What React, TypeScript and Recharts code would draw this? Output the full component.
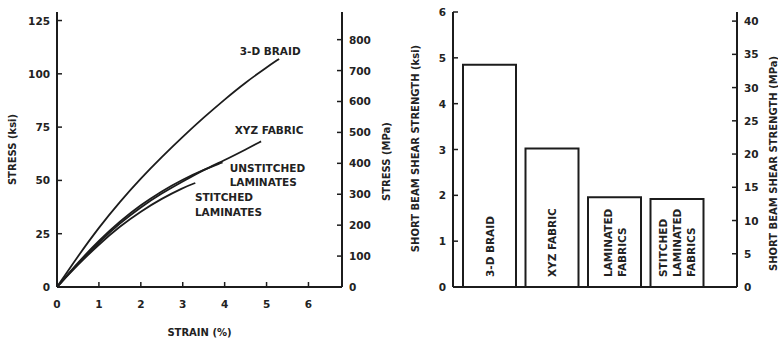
import React from "react";
import {
  LineChart,
  Line,
  BarChart,
  Bar,
  XAxis,
  YAxis,
  ReferenceDot,
  LabelList,
} from "recharts";

// stress-strain curves (strain %, stress ksi)
const braidStrain = [0, 0.5, 1, 1.5, 2, 2.5, 3, 3.5, 4, 4.5, 5, 5.3];
const braidStress = [0, 14.5, 28, 40, 51, 61, 70.5, 79.5, 88, 96, 103, 107];
const xyzStrain = [0, 0.5, 1, 1.5, 2, 2.5, 3, 3.5, 4, 4.5, 4.87];
const xyzStress = [0, 11, 21, 30, 37.5, 44, 49.5, 55, 59.5, 64.5, 68.3];
const unstitchedStrain = [0, 0.5, 1, 1.5, 2, 2.5, 3, 3.5, 3.95];
const unstitchedStress = [0, 11.5, 21.8, 30.8, 38.5, 45, 50.5, 55, 58.5];
const stitchedStrain = [0, 0.5, 1, 1.5, 2, 2.5, 3, 3.3];
const stitchedStress = [0, 10.5, 20, 28.5, 35.5, 41.5, 46.5, 48.8];

const strainTicks = [0, 1, 2, 3, 4, 5, 6];
const ksiTicks = [0, 25, 50, 75, 100, 125];
const mpaTicks = [0, 100, 200, 300, 400, 500, 600, 700, 800];

// short beam shear strength (ksi)
const materials = [
  "3-D BRAID",
  "XYZ FABRIC",
  "LAMINATED\nFABRICS",
  "STITCHED\nLAMINATED\nFABRICS",
];
const shearKsi = [4.85, 3.02, 1.96, 1.92];
const shearKsiTicks = [0, 1, 2, 3, 4, 5, 6];
const shearMpaTicks = [0, 5, 10, 15, 20, 25, 30, 35, 40];

const KSI_TO_MPA = 6.895;

const ink = "#1c1c1c";
const font = {
  fontFamily: "DejaVu Sans",
  fontWeight: 700,
  fill: "#222",
};

const toPoints = (xs: number[], ys: number[]) =>
  xs.map((x, i) => ({ x, y: ys[i] }));

const shearData = materials.map((name, i) => ({ name, ksi: shearKsi[i] }));

// tick mark drawn inside the plot, label outside
const GAP = 7;
const TICK = 5;
const InTick = (props: any) => {
  const { x, y, payload, side } = props;
  const label = String(payload.value);
  if (side === "left") {
    const ax = x + GAP;
    return (
      <g>
        <line x1={ax} x2={ax + TICK} y1={y} y2={y} stroke={ink} strokeWidth={1.5} />
        <text x={x} y={y} textAnchor="end" dominantBaseline="central" fontSize={10.5} style={font}>
          {label}
        </text>
      </g>
    );
  }
  if (side === "right") {
    const ax = x - GAP;
    return (
      <g>
        <line x1={ax} x2={ax - TICK} y1={y} y2={y} stroke={ink} strokeWidth={1.5} />
        <text x={x} y={y} textAnchor="start" dominantBaseline="central" fontSize={10.5} style={font}>
          {label}
        </text>
      </g>
    );
  }
  const ay = y - 12;
  return (
    <g>
      <line x1={x} x2={x} y1={ay} y2={ay - TICK} stroke={ink} strokeWidth={1.5} />
      <text x={x} y={y + 5} textAnchor="middle" dominantBaseline="central" fontSize={10.5} style={font}>
        {label}
      </text>
    </g>
  );
};

const SideLabel = (props: any) => {
  const { viewBox, text, dx = 0, dy = 0 } = props;
  if (!viewBox) return null;
  const cx = viewBox.x + dx;
  const cy = viewBox.y + viewBox.height / 2 + dy;
  return (
    <text
      x={cx}
      y={cy}
      transform={`rotate(-90 ${cx} ${cy})`}
      textAnchor="middle"
      dominantBaseline="central"
      fontSize={10}
      style={font}
    >
      {text}
    </text>
  );
};

const BottomLabel = (props: any) => {
  const { viewBox, text } = props;
  if (!viewBox) return null;
  const cx = viewBox.x + viewBox.width / 2;
  const cy = viewBox.y + 45;
  return (
    <text x={cx} y={cy} textAnchor="middle" dominantBaseline="central" fontSize={10} style={font}>
      {text}
    </text>
  );
};

const BarText = (props: any) => {
  const { x, y, width, height, value } = props;
  const lines = String(value).split("\n");
  const bottom = y + height - 10;
  return (
    <g>
      {lines.map((ln, i) => {
        const cx = x + width / 2 + (i - (lines.length - 1) / 2) * 14;
        return (
          <text
            key={i}
            x={cx}
            y={bottom}
            transform={`rotate(-90 ${cx} ${bottom})`}
            textAnchor="start"
            dominantBaseline="central"
            fontSize={10.5}
            style={font}
          >
            {ln}
          </text>
        );
      })}
    </g>
  );
};

const noteLabel = (value: string) => ({
  value,
  position: "right" as const,
  offset: 0,
  fontSize: 10.5,
  ...font,
});

const axisLine = { stroke: ink, strokeWidth: 2 };

const StressStrain = () => (
  <LineChart
    width={400}
    height={341}
    margin={{ top: 12, right: 0, bottom: 0, left: 0 }}
  >
    <XAxis
      xAxisId="top"
      orientation="top"
      type="number"
      domain={[0, 6.8]}
      height={0}
      tick={false}
      tickLine={false}
      axisLine={axisLine}
    />
    <XAxis
      dataKey="x"
      type="number"
      domain={[0, 6.8]}
      ticks={strainTicks}
      height={54}
      tickSize={0}
      tickMargin={12}
      tickLine={false}
      tick={<InTick side="bottom" />}
      axisLine={axisLine}
      label={<BottomLabel text="STRAIN (%)" />}
    />
    <YAxis
      type="number"
      domain={[0, 129]}
      ticks={ksiTicks}
      width={57}
      tickSize={0}
      tickMargin={GAP}
      tickLine={false}
      tick={<InTick side="left" />}
      axisLine={axisLine}
      label={<SideLabel text="STRESS (ksi)" dx={12} />}
    />
    <YAxis
      yAxisId="mpa"
      orientation="right"
      type="number"
      domain={[0, 129 * KSI_TO_MPA]}
      allowDataOverflow
      ticks={mpaTicks}
      width={58}
      tickSize={0}
      tickMargin={GAP}
      tickLine={false}
      tick={<InTick side="right" />}
      axisLine={axisLine}
      label={<SideLabel text="STRESS (MPa)" dx={44} dy={12} />}
    />
    {[
      toPoints(braidStrain, braidStress),
      toPoints(xyzStrain, xyzStress),
      toPoints(unstitchedStrain, unstitchedStress),
      toPoints(stitchedStrain, stitchedStress),
    ].map((pts, i) => (
      <Line
        key={i}
        data={pts}
        dataKey="y"
        type="basis"
        stroke={ink}
        strokeWidth={1.8}
        dot={false}
        isAnimationActive={false}
      />
    ))}
    <ReferenceDot x={4.36} y={110.4} r={0} stroke="none" label={noteLabel("3-D BRAID")} />
    <ReferenceDot x={4.24} y={73.3} r={0} stroke="none" label={noteLabel("XYZ FABRIC")} />
    <ReferenceDot x={4.12} y={55.9} r={0} stroke="none" label={noteLabel("UNSTITCHED")} />
    <ReferenceDot x={4.12} y={49.2} r={0} stroke="none" label={noteLabel("LAMINATES")} />
    <ReferenceDot x={3.29} y={42.3} r={0} stroke="none" label={noteLabel("STITCHED")} />
    <ReferenceDot x={3.29} y={35.2} r={0} stroke="none" label={noteLabel("LAMINATES")} />
  </LineChart>
);

const ShearStrength = () => (
  <BarChart
    width={378}
    height={341}
    data={shearData}
    margin={{ top: 12, right: 0, bottom: 0, left: 0 }}
    barCategoryGap={5}
  >
    <XAxis
      xAxisId="top"
      orientation="top"
      dataKey="name"
      height={0}
      tick={false}
      tickLine={false}
      axisLine={axisLine}
    />
    <XAxis
      dataKey="name"
      height={54}
      padding={{ left: 5, right: 29 }}
      tick={false}
      tickLine={false}
      axisLine={axisLine}
    />
    <YAxis
      type="number"
      domain={[0, 6]}
      ticks={shearKsiTicks}
      width={53}
      tickSize={0}
      tickMargin={GAP}
      tickLine={false}
      tick={<InTick side="left" />}
      axisLine={axisLine}
      label={<SideLabel text="SHORT BEAM SHEAR STRENGTH (ksi)" dx={15} dy={-1} />}
    />
    <YAxis
      yAxisId="mpa"
      orientation="right"
      type="number"
      domain={[0, 6 * KSI_TO_MPA]}
      allowDataOverflow
      ticks={shearMpaTicks}
      width={41}
      tickSize={0}
      tickMargin={GAP}
      tickLine={false}
      tick={<InTick side="right" />}
      axisLine={axisLine}
      label={<SideLabel text="SHORT BEAM SHEAR STRENGTH (MPa)" dx={36} dy={14} />}
    />
    <Bar
      dataKey="ksi"
      fill="#fff"
      stroke={ink}
      strokeWidth={2}
      isAnimationActive={false}
    >
      <LabelList dataKey="name" content={<BarText />} />
    </Bar>
  </BarChart>
);

export default function App() {
  return (
    <div
      style={{
        position: "absolute",
        left: 0,
        top: 0,
        width: 778,
        height: 341,
        background: "#fff",
        overflow: "hidden",
      }}
    >
      <div style={{ position: "absolute", left: 0, top: 0 }}>
        <StressStrain />
      </div>
      <div style={{ position: "absolute", left: 400, top: 0 }}>
        <ShearStrength />
      </div>
    </div>
  );
}
